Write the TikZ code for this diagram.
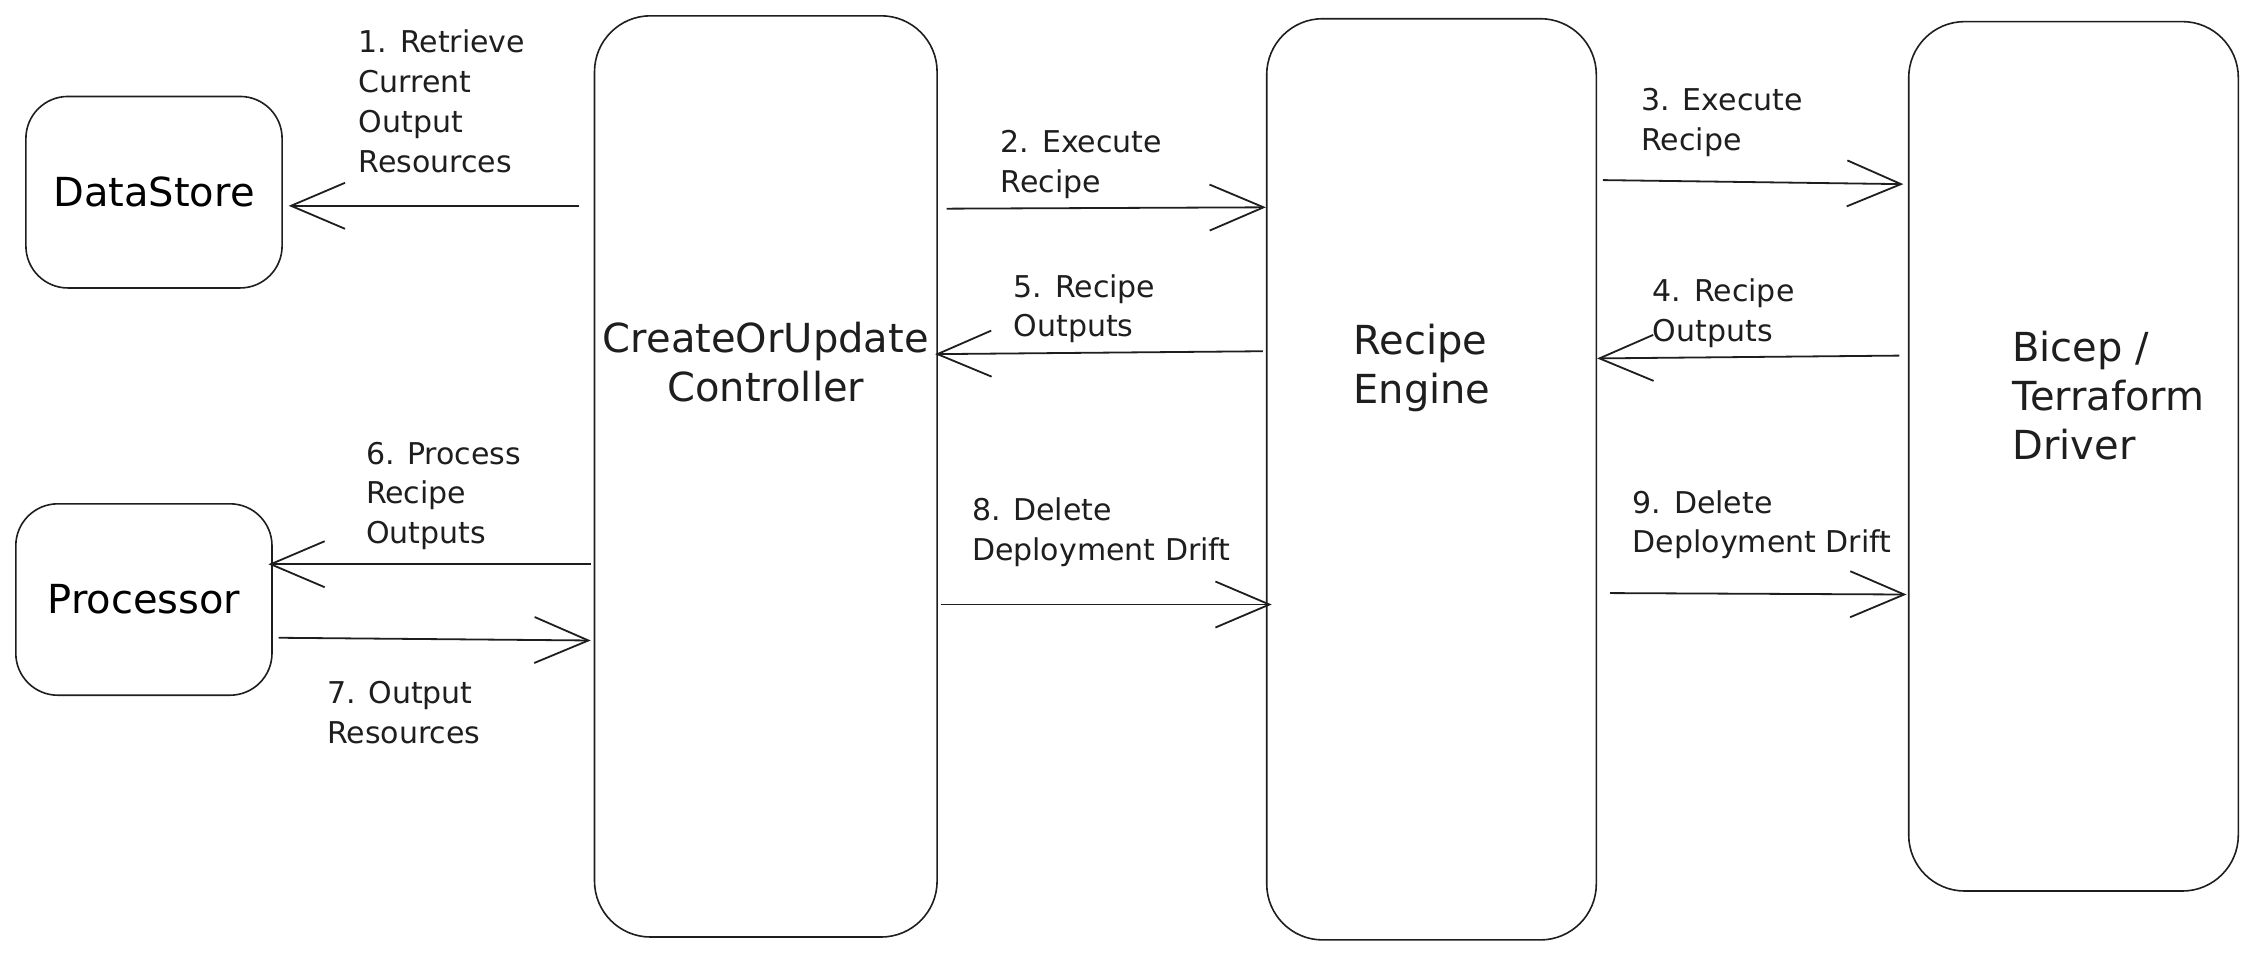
\documentclass[tikz,border=0pt]{standalone}
\usepackage{fontspec}
\setmainfont{DejaVu Sans}
\usetikzlibrary{arrows.meta}
\definecolor{ink}{HTML}{1E1E1E}
\begin{document}
\begin{tikzpicture}[x=0.5pt,y=-0.5pt,
  smallbox/.style={draw=ink, line width=0.8pt, rounded corners=21pt, inner sep=0pt, font=\fontsize{20}{24}\selectfont},
  bigbox/.style={draw=ink, line width=0.8pt, rounded corners=28pt, inner sep=0pt},
  boxtext/.style={inner sep=0pt, text=ink, font=\fontsize{20}{24.5}\selectfont},
  lbl/.style={inner sep=0pt, anchor=west, align=left, text=ink, font=\fontsize{15}{19.9}\selectfont},
  arr/.style={draw=ink, line width=0.9pt, -{Straight Barb[length=27pt,width=23pt,line width=0.9pt]}}
]
\fill[white] (0,0) rectangle (2257,955);
\useasboundingbox (0,0) rectangle (2257,955);

% boxes
\node[smallbox, minimum width=128.1pt, minimum height=95.75pt] (ds) at (154,192.2) {DataStore};
\node[smallbox, minimum width=128.1pt, minimum height=95.7pt] (proc) at (143.9,599.5) {Processor};
\node[bigbox, minimum width=171.3pt, minimum height=460.6pt] (ctrl) at (765.8,476.4) {};
\node[boxtext, align=center] (ctrlT) at (765.8,362) {CreateOrUpdate\\Controller};
\node[bigbox, minimum width=164.8pt, minimum height=460.6pt] (eng) at (1431.5,479.3) {};
\node[boxtext, anchor=west, align=left] (engT) at (1353,367.8) {Recipe\\Engine};
\node[bigbox, minimum width=164.8pt, minimum height=434.7pt] (drv) at (2073.5,456.3) {};
\node[boxtext, anchor=west, align=left] (drvT) at (2012,395.8) {Bicep /\\Terraform\\Driver};

% connectors
\draw[arr, shorten <=7.2pt, shorten >=2.9pt] (ctrl.west|-0,205.8) -- (ds.east|-0,205.8);
\draw[arr, shorten <=4.3pt] (ctrl.east|-0,208.7) -- (eng.west|-0,207.3);
\draw[arr, shorten <=2.9pt, shorten >=2.3pt] (eng.east|-0,180) -- (drv.west|-0,184.2);
\draw[arr, shorten <=4.3pt] (drv.west|-0,355.5) -- (eng.east|-0,358.4);
\draw[arr, shorten <=1.5pt, shorten >=-1.4pt] (eng.west|-0,351.2) -- (ctrl.east|-0,354.1);
\draw[arr, shorten <=1.5pt, shorten >=-2.2pt] (ctrl.west|-0,564.2) -- (proc.east|-0,564.2);
\draw[arr, shorten <=2.9pt, shorten >=1.5pt] (proc.east|-0,637.7) -- (ctrl.west|-0,640.5);
\draw[arr, shorten <=1.5pt, shorten >=-2.9pt] (ctrl.east|-0,604.5) -- (eng.west|-0,604.5);
\draw[arr, shorten <=6.5pt, shorten >=0.7pt] (eng.east|-0,593) -- (drv.west|-0,594.5);

% labels
\node[lbl] (l1) at (358.4,101.5) {1. Retrieve\\Current\\Output\\Resources};
\node[lbl] (l2) at (1000.4,164.8) {2. Execute\\Recipe};
\node[lbl] (l3) at (1641,122.4) {3. Execute\\Recipe};
\node[lbl] (l4) at (1652.4,313) {4. Recipe\\Outputs};
\node[lbl] (l5) at (1013.3,308.8) {5. Recipe\\Outputs};
\node[lbl] (l6) at (365.6,495.9) {6. Process\\Recipe\\Outputs};
\node[lbl] (l7) at (326.7,712.6) {7. Output\\Resources};
\node[lbl] (l8) at (971.6,531.9) {8. Delete\\Deployment Drift};
\node[lbl] (l9) at (1632.3,524.7) {9. Delete\\Deployment Drift};
\end{tikzpicture}
\end{document}
